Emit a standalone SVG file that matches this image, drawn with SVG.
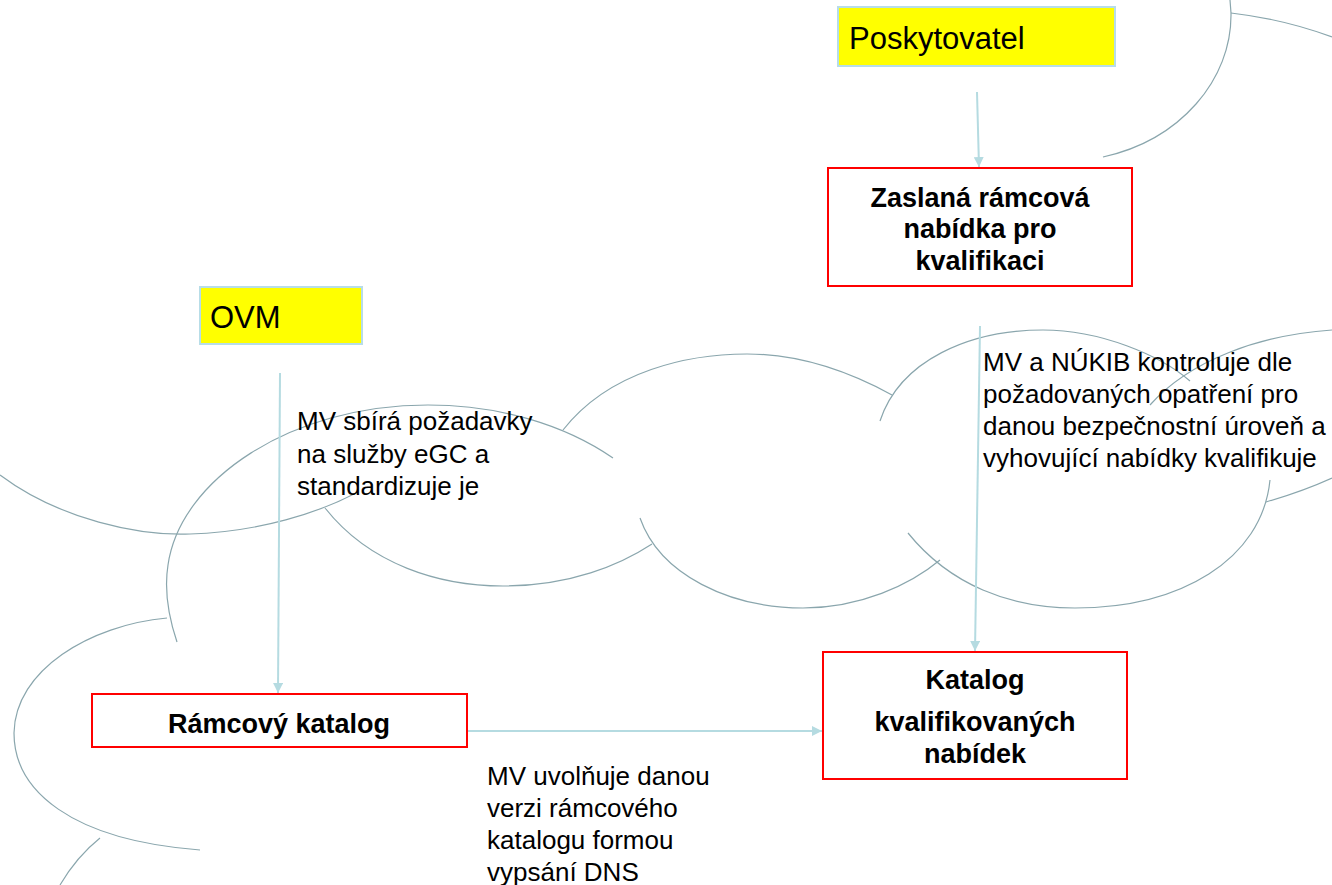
<svg xmlns="http://www.w3.org/2000/svg" width="1332" height="885" viewBox="0 0 1332 885">
<style>
  .cloud { fill: none; stroke: #8aa6ad; stroke-width: 1.2; }
  .conn { fill: none; stroke: #b5dbe1; stroke-width: 2; }
  .actor { fill: #ffff00; stroke: #b7dde8; stroke-width: 2; }
  .box { fill: #ffffff; stroke: #ff0000; stroke-width: 2; }
  .actorText { font-family: "Liberation Sans", Arial, sans-serif; font-size: 31px; fill: #000; }
  .nodeText { font-family: "Liberation Sans", Arial, sans-serif; font-size: 27px; font-weight: bold; fill: #000; text-anchor: middle; }
  .label { font-family: "Liberation Sans", Arial, sans-serif; font-size: 26px; fill: #000; }
</style>
<defs>
  <marker id="arrow" viewBox="0 0 10 10" refX="10" refY="5" markerWidth="5" markerHeight="5" orient="auto" markerUnits="strokeWidth">
    <path d="M0,0 L10,5 L0,10 Z" fill="#b5dbe1"/>
  </marker>
</defs>
<rect x="0" y="0" width="1332" height="885" fill="#ffffff"/>

<g id="background-clouds">
  <path class="cloud" d="M0,475 C60,520 140,536 190,534 C260,532 320,512 356,493"/>
  <path class="cloud" d="M177,642 C168,615 164,590 168,565 C180,480 290,405 428,405 C500,405 565,425 613,458"/>
  <path class="cloud" d="M167,618 C90,625 15,670 14,733 C14,790 70,840 200,850"/>
  <path class="cloud" d="M100,838 C85,850 70,868 60,885"/>
  <path class="cloud" d="M325,508 C370,565 440,586 503,586 C570,586 620,565 652,544"/>
  <path class="cloud" d="M563,430 C610,370 690,354 747,354 C800,354 850,372 892,395"/>
  <path class="cloud" d="M640,518 C660,575 730,608 803,608 C860,608 910,585 940,560"/>
  <path class="cloud" d="M880,421 C900,360 970,330 1043,330 C1100,330 1160,355 1190,381"/>
  <path class="cloud" d="M1150,405 C1190,360 1260,335 1332,330"/>
  <path class="cloud" d="M908,533 C950,585 1010,608 1075,608 C1180,608 1262,560 1270,480"/>
  <path class="cloud" d="M1266,502 C1290,495 1310,488 1332,478"/>
  <path class="cloud" d="M1230,0 L1231,13 C1232,80 1180,140 1103,157"/>
  <path class="cloud" d="M1231,13 C1265,17 1300,25 1332,37"/>
</g>

<g id="connectors">
  <path class="conn" d="M977,92 L979,167" marker-end="url(#arrow)"/>
  <path class="conn" d="M280,373 L278,693" marker-end="url(#arrow)"/>
  <path class="conn" d="M980,326 L975,651" marker-end="url(#arrow)"/>
  <path class="conn" d="M467,731 L822,731" marker-end="url(#arrow)"/>
</g>

<g id="label-ovm-rk">
  <text class="label" x="297" y="430">MV sbírá požadavky</text>
  <text class="label" x="297" y="463">na služby eGC a</text>
  <text class="label" x="297" y="495">standardizuje je</text>
</g>
<g id="label-zrn-kkn">
  <text class="label" x="983" y="371">MV a NÚKIB kontroluje dle</text>
  <text class="label" x="983" y="403">požadovaných opatření pro</text>
  <text class="label" x="983" y="435">danou bezpečnostní úroveň a</text>
  <text class="label" x="983" y="467">vyhovující nabídky kvalifikuje</text>
</g>
<g id="label-rk-kkn">
  <text class="label" x="487" y="785">MV uvolňuje danou</text>
  <text class="label" x="487" y="817">verzi rámcového</text>
  <text class="label" x="487" y="849">katalogu formou</text>
  <text class="label" x="487" y="881">vypsání DNS</text>
</g>

<g id="node-poskytovatel">
  <rect class="actor" x="838" y="7" width="277" height="59"/>
  <text class="actorText" x="849" y="49">Poskytovatel</text>
</g>
<g id="node-ovm">
  <rect class="actor" x="200" y="287" width="162" height="57"/>
  <text class="actorText" x="210" y="328">OVM</text>
</g>
<g id="node-zaslana">
  <rect class="box" x="828" y="168" width="304" height="118"/>
  <text class="nodeText" x="980" y="207">Zaslaná rámcová</text>
  <text class="nodeText" x="980" y="238">nabídka pro</text>
  <text class="nodeText" x="980" y="270">kvalifikaci</text>
</g>
<g id="node-ramcovy">
  <rect class="box" x="92" y="694" width="375" height="53"/>
  <text class="nodeText" x="279" y="733">Rámcový katalog</text>
</g>
<g id="node-katalog">
  <rect class="box" x="823" y="652" width="304" height="127"/>
  <text class="nodeText" x="975" y="689">Katalog</text>
  <text class="nodeText" x="975" y="731">kvalifikovaných</text>
  <text class="nodeText" x="975" y="763">nabídek</text>
</g>
</svg>
